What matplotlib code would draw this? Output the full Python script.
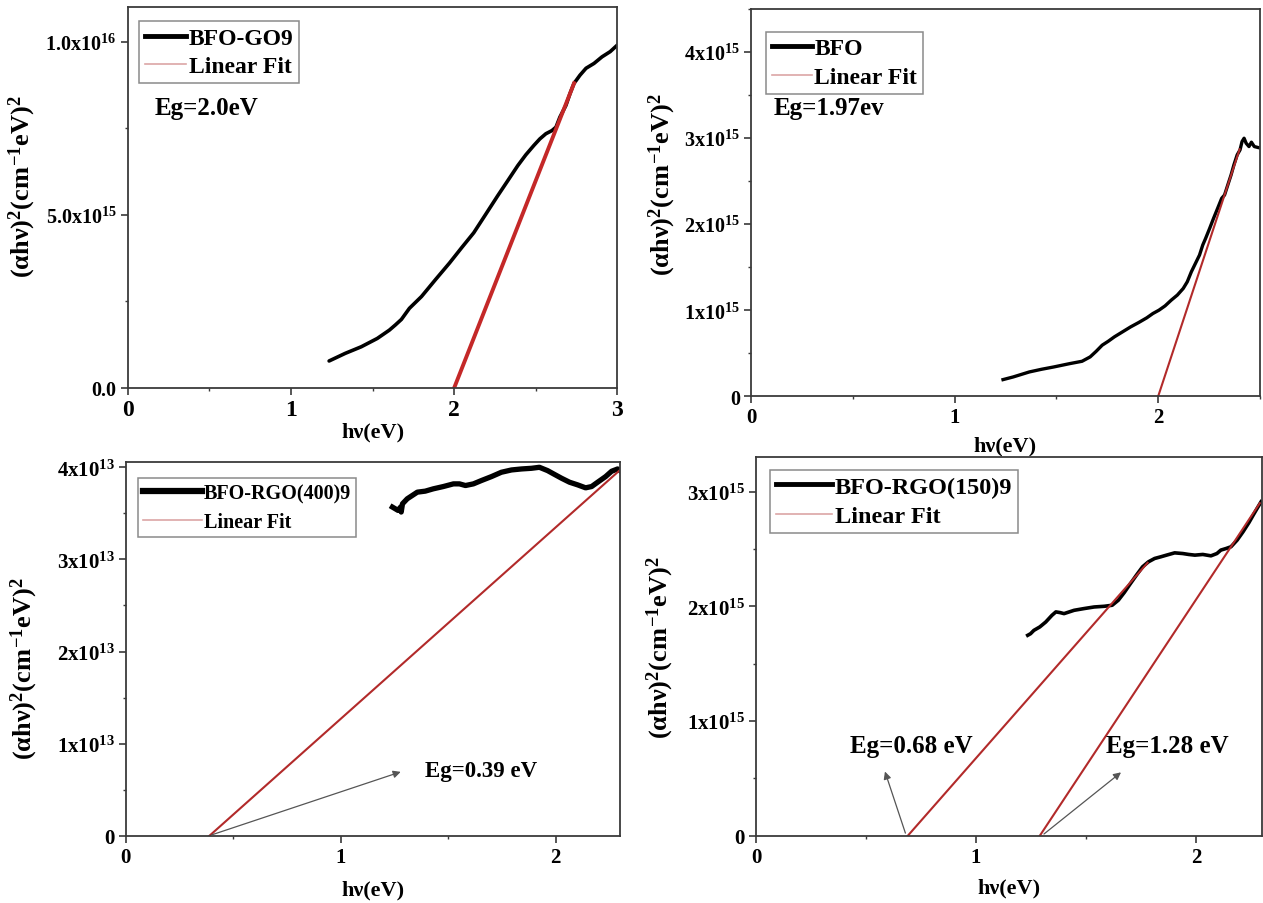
"""Tauc plots for BFO / BFO-GO / BFO-RGO samples with linear-fit band gaps."""

import matplotlib
import matplotlib.pyplot as plt
from matplotlib.lines import Line2D
from matplotlib.ticker import FixedLocator, MultipleLocator

matplotlib.use("Agg")

plt.rcParams["font.family"] = ["Liberation Serif", "DejaVu Serif"]
plt.rcParams["font.weight"] = "bold"
plt.rcParams["mathtext.fontset"] = "custom"
plt.rcParams["mathtext.rm"] = "Liberation Serif:bold"
plt.rcParams["mathtext.it"] = "Liberation Serif:bold"
plt.rcParams["mathtext.bf"] = "Liberation Serif:bold"

# --- data -----------------------------------------------------------------
# BFO-GO9 (y in units of 1e16)
go9_hv = [1.234, 1.333, 1.431, 1.529, 1.603, 1.640, 1.677, 1.726, 1.800, 1.886,
          1.972, 2.046, 2.120, 2.193, 2.267, 2.328, 2.390, 2.439, 2.488, 2.525,
          2.562, 2.599, 2.624, 2.648, 2.685, 2.710, 2.734, 2.771, 2.808, 2.857,
          2.906, 2.956, 3.000]
go9_y = [0.078, 0.100, 0.119, 0.143, 0.167, 0.182, 0.198, 0.230, 0.264, 0.313,
         0.361, 0.405, 0.448, 0.501, 0.555, 0.598, 0.642, 0.673, 0.700, 0.719,
         0.734, 0.743, 0.753, 0.782, 0.816, 0.850, 0.879, 0.903, 0.923, 0.937,
         0.956, 0.971, 0.990]
go9_fit_hv = [2.0, 2.735]
go9_fit_y = [0.0, 0.88]

# BFO (y in units of 1e15)
bfo_hv = [1.238, 1.288, 1.367, 1.427, 1.487, 1.566, 1.626, 1.666, 1.696, 1.725,
          1.755, 1.785, 1.825, 1.865, 1.904, 1.944, 1.974, 2.004, 2.034, 2.064,
          2.094, 2.123, 2.143, 2.163, 2.183, 2.203, 2.219, 2.233, 2.253, 2.272,
          2.292, 2.312, 2.326, 2.342, 2.358, 2.372, 2.388, 2.402, 2.412, 2.422,
          2.432, 2.446, 2.458, 2.472, 2.492, 2.511]
bfo_y = [0.194, 0.225, 0.283, 0.314, 0.341, 0.380, 0.407, 0.458, 0.524, 0.594,
         0.640, 0.691, 0.749, 0.807, 0.857, 0.912, 0.962, 1.001, 1.051, 1.117,
         1.176, 1.253, 1.331, 1.447, 1.544, 1.641, 1.758, 1.835, 1.952, 2.068,
         2.184, 2.301, 2.339, 2.456, 2.572, 2.689, 2.805, 2.863, 2.960, 2.999,
         2.941, 2.902, 2.953, 2.902, 2.890, 2.883]
bfo_fit_hv = [2.0, 2.40]
bfo_fit_y = [0.0, 2.87]

# BFO-RGO(400)9 (y in units of 1e13)
rgo400_hv = [1.241, 1.254, 1.267, 1.279, 1.282, 1.288, 1.310, 1.357, 1.394, 1.431,
             1.478, 1.525, 1.553, 1.581, 1.618, 1.655, 1.702, 1.748, 1.795, 1.842,
             1.888, 1.925, 1.963, 1.991, 2.028, 2.065, 2.103, 2.140, 2.168, 2.196,
             2.233, 2.261, 2.289, 2.304]
rgo400_y = [3.568, 3.550, 3.532, 3.568, 3.514, 3.604, 3.658, 3.730, 3.741, 3.766,
            3.791, 3.820, 3.820, 3.802, 3.820, 3.856, 3.899, 3.946, 3.971, 3.982,
            3.989, 4.000, 3.964, 3.928, 3.881, 3.838, 3.809, 3.777, 3.791, 3.838,
            3.899, 3.957, 3.982, 3.957]
rgo400_fit_hv = [0.39, 2.30]
rgo400_fit_y = [0.0, 3.97]

# BFO-RGO(150)9 (y in units of 1e15)
rgo150_hv = [1.235, 1.248, 1.263, 1.290, 1.317, 1.345, 1.363, 1.382, 1.400, 1.446,
             1.491, 1.537, 1.583, 1.619, 1.647, 1.674, 1.702, 1.729, 1.757, 1.784,
             1.812, 1.839, 1.866, 1.903, 1.940, 1.967, 1.995, 2.031, 2.068, 2.095,
             2.113, 2.137, 2.159, 2.187, 2.214, 2.241, 2.260, 2.278, 2.296]
rgo150_y = [1.748, 1.762, 1.791, 1.821, 1.864, 1.922, 1.952, 1.946, 1.937, 1.966,
            1.981, 1.995, 2.001, 2.010, 2.054, 2.121, 2.199, 2.272, 2.345, 2.389,
            2.418, 2.432, 2.447, 2.467, 2.461, 2.453, 2.447, 2.453, 2.441, 2.461,
            2.491, 2.505, 2.520, 2.578, 2.651, 2.732, 2.796, 2.855, 2.913]
rgo150_fit1_hv = [0.69, 1.78]
rgo150_fit1_y = [0.0, 2.38]
rgo150_fit2_hv = [1.29, 2.29]
rgo150_fit2_y = [0.0, 2.90]

YLABEL = r"$(\alpha h\nu)^2(cm^{-1}eV)^2$"
SPINE = "#3a3a3a"
FIT_RED = "#b22a2a"
FIT_HANDLE = "#dca6a6"


def _style(ax, xmax, ymax, yticks, yticklabels, yminor, xfs, yfs):
    ax.set_xlim(0, xmax)
    ax.set_ylim(0, ymax)
    ax.xaxis.set_major_locator(FixedLocator([t for t in range(0, int(xmax) + 1)]))
    ax.xaxis.set_minor_locator(MultipleLocator(0.5))
    ax.yaxis.set_major_locator(FixedLocator(yticks))
    ax.set_yticklabels(yticklabels)
    ax.yaxis.set_minor_locator(MultipleLocator(yminor))
    for s in ax.spines.values():
        s.set_color(SPINE)
        s.set_linewidth(1.3)
    ax.tick_params(which="major", direction="out", length=5, width=1.2, color=SPINE, pad=3)
    ax.tick_params(which="minor", direction="out", length=2.5, width=1.0, color=SPINE)
    ax.tick_params(axis="x", labelsize=xfs)
    ax.tick_params(axis="y", labelsize=yfs)
    for lab in ax.get_xticklabels() + ax.get_yticklabels():
        lab.set_fontweight("bold")


def _legend(ax, name, anchor, fs, hl, lw, spacing=0.3):
    handles = [Line2D([], [], color="black", lw=lw), Line2D([], [], color=FIT_HANDLE, lw=1.2)]
    leg = ax.legend(handles, [name, "Linear Fit"], loc="upper left", bbox_to_anchor=anchor,
                    borderaxespad=0, fancybox=False, edgecolor="#8a8a8a", framealpha=1,
                    handlelength=hl, handletextpad=0.1, borderpad=0.25, labelspacing=spacing,
                    prop={"weight": "bold", "size": fs})
    leg.get_frame().set_linewidth(1.1)


def _labels(ax, ylab_x, xlab_y, ylab_y=0.5, fs=16, yfs=19):
    ax.set_xlabel("h\u03bd(eV)", fontsize=fs, fontweight="bold")
    ax.set_ylabel(YLABEL, fontsize=yfs)
    ax.xaxis.set_label_coords(0.5, xlab_y)
    ax.yaxis.set_label_coords(ylab_x, ylab_y)


def render(out="out.png"):
    fig = plt.figure(figsize=(12.63, 9.04), dpi=100)

    # --- BFO-GO9 ---
    ax = fig.add_axes([0.1011, 0.5697, 0.3877, 0.4215])
    ax.plot(go9_hv, [v * 1e16 for v in go9_y], color="black", lw=2.6, solid_capstyle="round")
    ax.plot(go9_fit_hv, [v * 1e16 for v in go9_fit_y], color="#c42828", lw=2.8)
    _style(ax, 3, 1.1e16, [0, 5e15, 1e16],
           ["0.0", r"$5.0x10^{15}$", r"$1.0x10^{16}$"], 2.5e15, 17, 14.5)
    _legend(ax, "BFO-GO9", (0.023, 0.962), 17, 1.75, 3.5)
    ax.text(0.165, 0.811e16, "Eg=2.0eV", fontsize=18, fontweight="bold", va="center")
    _labels(ax, -0.183, -0.087, 0.53)

    # --- BFO ---
    ax = fig.add_axes([0.5946, 0.5605, 0.4030, 0.4284])
    ax.plot(bfo_hv, [v * 1e15 for v in bfo_y], color="black", lw=2.4)
    ax.plot(bfo_fit_hv, [v * 1e15 for v in bfo_fit_y], color=FIT_RED, lw=1.5)
    _style(ax, 2.5, 4.5e15, [0, 1e15, 2e15, 3e15, 4e15],
           ["0", r"$1x10^{15}$", r"$2x10^{15}$", r"$3x10^{15}$", r"$4x10^{15}$"],
           0.5e15, 15, 14.5)
    _legend(ax, "BFO", (0.029, 0.941), 17, 1.7, 3.5)
    ax.text(0.113, 3.36e15, "Eg=1.97ev", fontsize=18, fontweight="bold", va="center")
    _labels(ax, -0.143, -0.10, 0.55)

    # --- BFO-RGO(400)9 ---
    ax = fig.add_axes([0.0995, 0.0744, 0.3914, 0.4137])
    ax.plot(rgo400_hv, [v * 1e13 for v in rgo400_y], color="black", lw=3.8)
    ax.plot(rgo400_fit_hv, [v * 1e13 for v in rgo400_fit_y], color=FIT_RED, lw=1.5)
    _style(ax, 2.3, 4.06e13, [0, 1e13, 2e13, 3e13, 4e13],
           ["0", r"$1x10^{13}$", r"$2x10^{13}$", r"$3x10^{13}$", r"$4x10^{13}$"],
           0.5e13, 15, 15)
    _legend(ax, "BFO-RGO(400)9", (0.0255, 0.9556), 14.5, 2.9, 4.5, 0.45)
    ax.annotate("", xy=(1.292, 0.703e13), xytext=(0.388, 0),
                arrowprops=dict(arrowstyle="-|>", color="#555555", lw=0.9, mutation_scale=11))
    ax.text(1.394, 0.703e13, "Eg=0.39 eV", fontsize=16.5, fontweight="bold", va="center")
    _labels(ax, -0.173, -0.116, 0.45)

    # --- BFO-RGO(150)9 ---
    ax = fig.add_axes([0.5986, 0.0744, 0.4006, 0.4186])
    ax.plot(rgo150_hv, [v * 1e15 for v in rgo150_y], color="black", lw=2.6)
    ax.plot(rgo150_fit1_hv, [v * 1e15 for v in rgo150_fit1_y], color=FIT_RED, lw=1.5)
    ax.plot(rgo150_fit2_hv, [v * 1e15 for v in rgo150_fit2_y], color=FIT_RED, lw=1.5)
    _style(ax, 2.3, 3.3e15, [0, 1e15, 2e15, 3e15],
           ["0", r"$1x10^{15}$", r"$2x10^{15}$", r"$3x10^{15}$"], 0.5e15, 15, 15)
    _legend(ax, "BFO-RGO(150)9", (0.028, 0.967), 17.5, 2.3, 3.5)
    arrow = dict(arrowstyle="-|>", color="#555555", lw=0.9, mutation_scale=11)
    ax.annotate("", xy=(0.582, 0.583e15), xytext=(0.683, 0), arrowprops=arrow)
    ax.annotate("", xy=(1.669, 0.568e15), xytext=(1.299, 0), arrowprops=arrow)
    ax.text(0.708, 0.786e15, "Eg=0.68 eV", fontsize=18, fontweight="bold", ha="center", va="center")
    ax.text(1.870, 0.786e15, "Eg=1.28 eV", fontsize=18, fontweight="bold", ha="center", va="center")
    _labels(ax, -0.158, -0.109, 0.5)

    fig.savefig(out, dpi=100)
    plt.close(fig)


if __name__ == "__main__":
    render()
